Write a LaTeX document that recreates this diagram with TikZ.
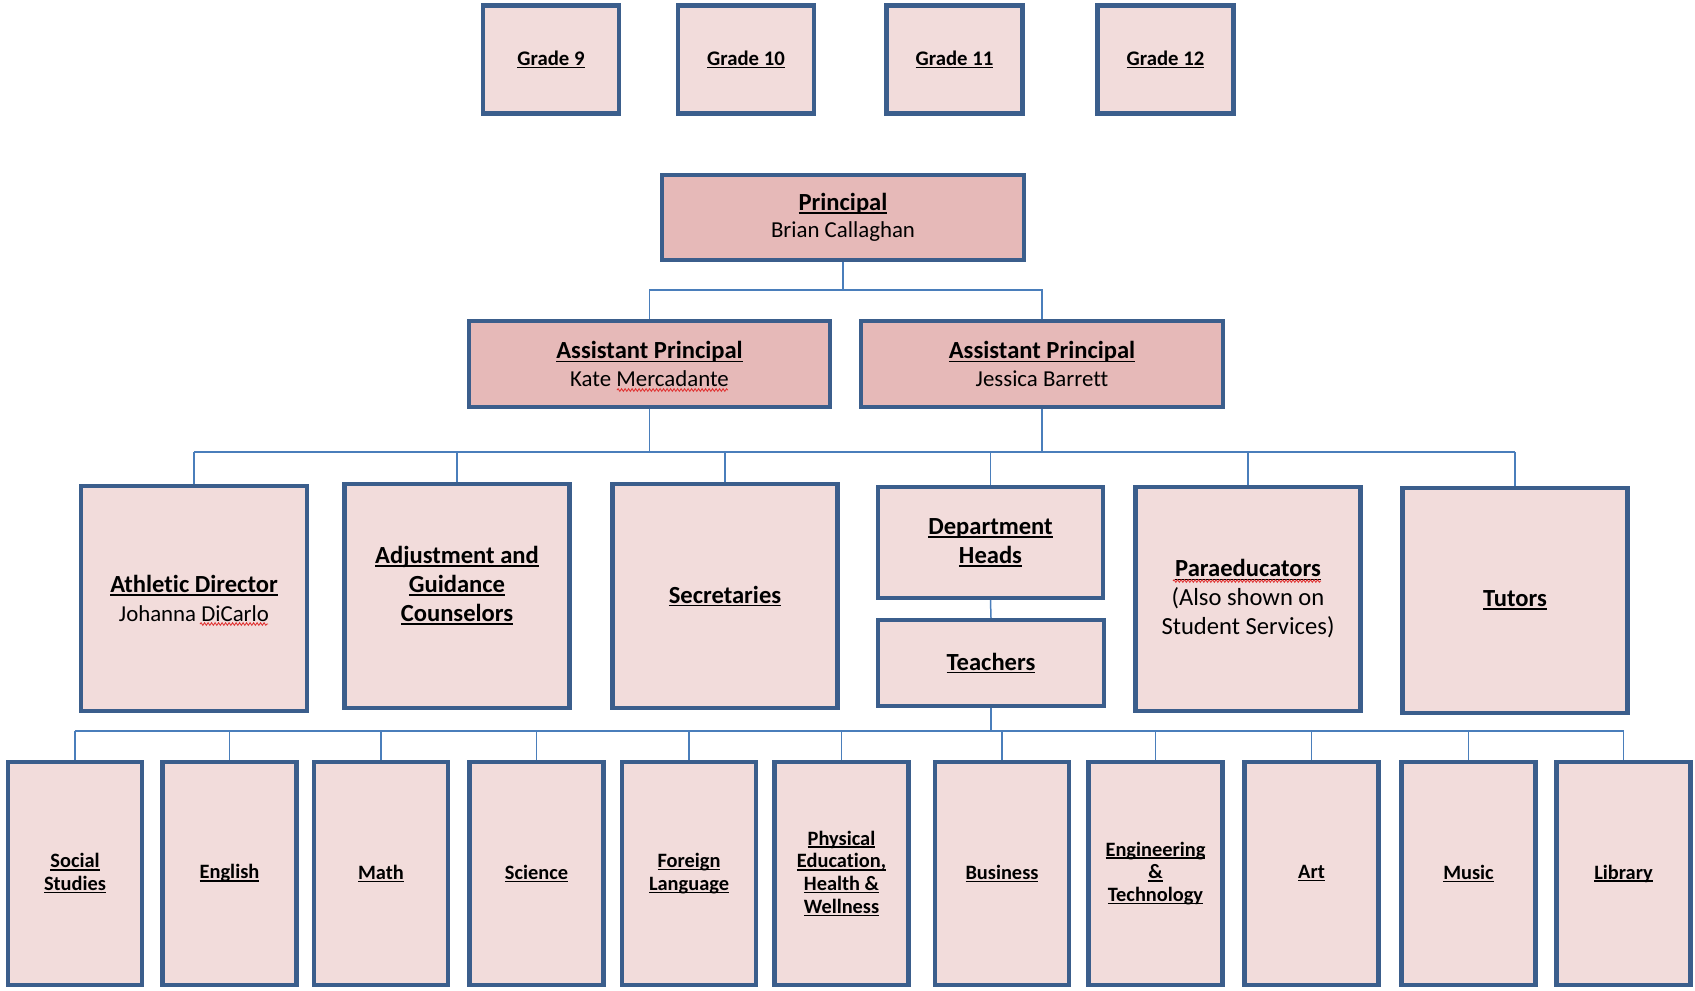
\documentclass[tikz,border=0pt]{standalone}
\usepackage{fontspec}
\setmainfont{Carlito}[Ligatures=NoCommon]
\usetikzlibrary{decorations.pathmorphing}

% Colours of the chart
\definecolor{boxfill}{HTML}{F2DCDB}
\definecolor{headfill}{HTML}{E6B9B8}
\definecolor{boxline}{HTML}{3B5E8C}
\definecolor{linkline}{HTML}{4A7EBB}
\definecolor{spellred}{HTML}{E03030}

% Underline at a fixed depth, as in the word processor
\newcommand{\ultext}[1]{\setbox0\hbox{#1}\rlap{\rule[-0.13em]{\wd0}{0.065em}}\box0}
% Plain name line under a bold title
\newcommand{\namefont}{\fontsize{13}{15.5}\selectfont\mdseries}

\begin{document}
\begin{tikzpicture}[x=0.02cm, y=-0.02cm,
    unit/.style={draw=boxline, line width=2.5pt, fill=boxfill, inner sep=0pt,
        align=center},
    head/.style={unit, fill=headfill, minimum width=7.23cm, minimum height=1.71cm,
        font=\fontsize{14}{15.5}\selectfont\bfseries},
    grade/.style={unit, minimum width=2.72cm, minimum height=2.16cm,
        font=\fontsize{11.8}{13}\selectfont\bfseries},
    staff/.style={unit, minimum width=4.5cm, minimum height=4.5cm,
        font=\fontsize{14}{16.5}\selectfont\bfseries},
    dept/.style={unit, minimum width=2.68cm, minimum height=4.46cm,
        font=\fontsize{11.6}{13}\selectfont\bfseries},
    link/.style={draw=linkline, line width=0.85pt},
    spell/.style={draw=spellred, line width=0.5pt,
        decorate, decoration={snake, segment length=0.07cm, amplitude=0.025cm}}]

    \useasboundingbox (0,0) rectangle (1695,991);

    % Grade boxes on top
    \node[grade] (g9)  at (551,59.5)    {\ultext{Grade 9}};
    \node[grade] (g10) at (746,59.5)    {\ultext{Grade 10}};
    \node[grade] (g11) at (954.5,59.5)  {\ultext{Grade 11}};
    \node[grade] (g12) at (1165.5,59.5) {\ultext{Grade 12}};

    % Principal and assistant principals
    \node[head] (principal) at (843,217.5)
        {\ultext{Principal}\\\namefont Brian Callaghan};
    \node[head] (apkate) at (649.5,364)
        {\ultext{Assistant Principal}\\\namefont Kate Mercadante};
    \node[head] (apjess) at (1042,364)
        {\ultext{Assistant Principal}\\\namefont Jessica Barrett};

    % Middle row of staff
    \node[staff, minimum width=4.52cm] (athletic) at (194,598.5)
        {\ultext{Athletic Director}\\\namefont Johanna DiCarlo};
    \node[staff, minimum height=4.48cm] (counsel) at (457,596)
        {\ultext{Adjustment and}\\\ultext{Guidance}\\\ultext{Counselors}\\[-2.7pt]};
    \node[staff, minimum height=4.48cm] (secret) at (725,596)
        {\ultext{Secretaries}};
    \node[staff, minimum height=2.22cm] (heads) at (990.5,542.5)
        {\ultext{Department}\\\ultext{Heads}};
    \node[staff, minimum width=4.52cm, minimum height=1.72cm] (teachers) at (991,663)
        {\ultext{Teachers}};
    \node[staff, minimum height=4.48cm] (para) at (1248,599)
        {\ultext{Paraeducators}\\\mdseries(Also shown on\\\mdseries Student Services)};
    \node[staff] (tutors) at (1515,600.5)
        {\ultext{Tutors}};

    % Bottom row of departments
    \node[dept] (social)   at (75,873.5)     {\ultext{Social}\\\ultext{Studies}};
    \node[dept] (english)  at (229.5,873.5)  {\ultext{English}};
    \node[dept] (math)     at (381,873.5)    {\ultext{Math}};
    \node[dept] (science)  at (536.5,873.5)  {\ultext{Science}};
    \node[dept] (foreign)  at (689,873.5)    {\ultext{Foreign}\\\ultext{Language}};
    \node[dept] (phys)     at (841.5,873.5)
        {\ultext{Physical}\\\ultext{Education,}\\\ultext{Health \&}\\\ultext{Wellness}};
    \node[dept] (business) at (1002,873.5)   {\ultext{Business}};
    \node[dept] (engtech)  at (1155.5,873.5)
        {\ultext{Engineering}\\\ultext{\&}\\\ultext{Technology}};
    \node[dept] (art)      at (1311.5,873.5) {\ultext{Art}};
    \node[dept] (music)    at (1468.5,873.5) {\ultext{Music}};
    \node[dept] (library)  at (1623.5,873.5) {\ultext{Library}};

    % Bus coordinates for the connectors
    \coordinate (topbus) at (843,290);
    \coordinate (midbusL) at (194,452);
    \coordinate (midbusR) at (1515,452);
    \coordinate (lowbusL) at (75,731);
    \coordinate (lowbusR) at (1623.5,731);

    % Principal to assistant principals
    \draw[link] (principal.south) -- (topbus);
    \draw[link] (apkate.north) |- (topbus) -| (apjess.north);

    % Assistant principals to staff
    \draw[link] (midbusL) -- (midbusR);
    \draw[link] (apkate.south) -- (apkate.south |- midbusL);
    \draw[link] (apjess.south) -- (apjess.south |- midbusL);
    \foreach \n in {athletic,counsel,secret,heads,para,tutors}
        \draw[link] (\n.north) -- (\n.north |- midbusL);

    % Department heads down to the departments
    \draw[link] (heads.south) -- (teachers.north);
    \draw[link] (lowbusL) -- (lowbusR);
    \draw[link] (teachers.south) -- (teachers.south |- lowbusL);
    \foreach \n in {social,english,math,science,foreign,phys,business,engtech,art,music,library}
        \draw[link] (\n.north) -- (\n.north |- lowbusL);

    % Spell check marks under names
    \draw[spell] (617,390) -- (728,390);
    \draw[spell] (200,624) -- (268,624);
    \draw[spell] (1173,581) -- (1321,581);

\end{tikzpicture}
\end{document}
